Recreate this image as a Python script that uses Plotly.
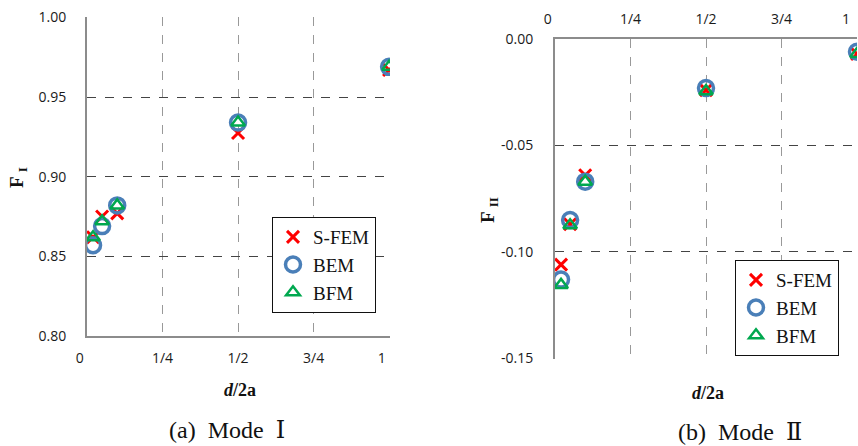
import plotly.graph_objects as go

# ---- data ----
x_pos = [0.02, 0.05, 0.1, 0.5, 1.0]
xtick_vals = [0, 0.25, 0.5, 0.75, 1.0]
NB = "\u00a0" * 4
xtick_text = ["0" + NB, "1/4", "1/2", "3/4", "1" + NB]
xtick_text_top = ["0" + NB, "1/4", "1/2", "3/4", "1" + NB + "\u00a0\u00a0"]

# Mode I
f1_sfem = [0.862, 0.875, 0.877, 0.9275, 0.967]
f1_bem = [0.857, 0.869, 0.882, 0.934, 0.969]
f1_bfm = [0.862, 0.872, 0.882, 0.934, 0.969]
y1_ticks = [0.80, 0.85, 0.90, 0.95, 1.00]
y1_text = ["0.80", "0.85", "0.90", "0.95", "1.00"]

# Mode II
f2_sfem = [-0.106, -0.087, -0.064, -0.024, -0.007]
f2_bem = [-0.113, -0.085, -0.067, -0.023, -0.006]
f2_bfm = [-0.1155, -0.0875, -0.067, -0.0245, -0.007]
y2_ticks = [0.0, -0.05, -0.10, -0.15]
y2_text = ["0.00", "-0.05", "-0.10", "-0.15"]

RED = "#ff0000"
BLUE = "#4a7fb8"
GREEN = "#00a84f"
SERIF = "Liberation Serif, DejaVu Serif"
SANS = "Open Sans"
SP = "\u00a0"

fig = go.Figure()


def add_series(xa, ya, legend, sfem, bem, bfm):
    fig.add_trace(go.Scatter(x=x_pos, y=sfem, mode="markers", name="S-FEM",
                             xaxis=xa, yaxis=ya, legend=legend,
                             marker=dict(symbol="x-thin-open", size=12,
                                         line=dict(color=RED, width=3), color=RED)))
    fig.add_trace(go.Scatter(x=x_pos, y=bem, mode="markers", name="BEM",
                             xaxis=xa, yaxis=ya, legend=legend,
                             marker=dict(symbol="circle-open", size=15,
                                         line=dict(color=BLUE, width=3.5), color=BLUE)))
    fig.add_trace(go.Scatter(x=x_pos, y=bfm, mode="markers", name="BFM",
                             xaxis=xa, yaxis=ya, legend=legend,
                             marker=dict(symbol="triangle-up-open", size=12,
                                         line=dict(color=GREEN, width=2.5), color=GREEN)))


add_series("x", "y", "legend", f1_sfem, f1_bem, f1_bfm)
add_series("x2", "y2", "legend2", f2_sfem, f2_bem, f2_bfm)

axis_line = dict(showline=True, linecolor="#8c8c8c", linewidth=2, zeroline=False,
                 automargin=False, ticklabeloverflow="allow",
                 tickfont=dict(family=SANS, size=14, color="#1a1a1a"))

fig.update_layout(
    width=858, height=446,
    margin=dict(l=0, r=0, t=0, b=0, autoexpand=False),
    paper_bgcolor="white", plot_bgcolor="white",
    font=dict(family=SANS, size=14, color="#222"),
    xaxis=dict(domain=[87 / 858, 390 / 858], range=[0, 1.003], anchor="y",
               tickvals=xtick_vals, ticktext=xtick_text, ticks="",
               ticklabelstandoff=8,
               showgrid=True, gridcolor="#999999", griddash="dash", gridwidth=1,
               **axis_line),
    yaxis=dict(domain=[1 - 336 / 446, 1 - 17 / 446], range=[0.80, 1.0003], anchor="x",
               tickvals=y1_ticks, ticktext=y1_text, ticks="",
               ticklabelstandoff=16,
               showgrid=True, gridcolor="#444444", griddash="dash", gridwidth=1,
               **axis_line),
    xaxis2=dict(domain=[555 / 858, 857 / 858], range=[0, 1.0], anchor="y2", side="top",
                tickvals=xtick_vals, ticktext=xtick_text_top, ticks="",
                ticklabelstandoff=7,
                showgrid=True, gridcolor="#999999", griddash="dash", gridwidth=1,
                **axis_line),
    yaxis2=dict(domain=[1 - 359 / 446, 1 - 39 / 446], range=[-0.1503, 0.0], anchor="x2",
                tickvals=y2_ticks, ticktext=y2_text, ticks="",
                ticklabelstandoff=17,
                showgrid=True, gridcolor="#444444", griddash="dash", gridwidth=1,
                **axis_line),
    legend=dict(x=272 / 858, y=1 - 217 / 446, xanchor="left", yanchor="top",
                bgcolor="white", bordercolor="#111", borderwidth=1,
                font=dict(family=SERIF, size=19, color="#111"), itemwidth=30,
                tracegroupgap=0),
    legend2=dict(x=735 / 858, y=1 - 260 / 446, xanchor="left", yanchor="top",
                 bgcolor="white", bordercolor="#111", borderwidth=1,
                 font=dict(family=SERIF, size=19, color="#111"), itemwidth=30,
                 tracegroupgap=0),
    annotations=[
        dict(text="(a)" + SP * 2 + "Mode" + SP * 2 + "Ⅰ", x=227 / 858, y=1 - 430 / 446,
             xref="paper", yref="paper",
             showarrow=False, font=dict(family=SERIF, size=24, color="#111"),
             xanchor="center", yanchor="middle"),
        dict(text="(b)" + SP * 2 + "Mode" + SP * 2 + "Ⅱ", x=740 / 858, y=1 - 432 / 446,
             xref="paper", yref="paper",
             showarrow=False, font=dict(family=SERIF, size=24, color="#111"),
             xanchor="center", yanchor="middle"),
        dict(text="<b><i>d</i>/2a</b>", x=240 / 858, y=1 - 390 / 446, xref="paper", yref="paper",
             showarrow=False, font=dict(family=SERIF, size=18, color="#111"),
             xanchor="center", yanchor="middle"),
        dict(text="<b><i>d</i>/2a</b>", x=708 / 858, y=1 - 393 / 446, xref="paper", yref="paper",
             showarrow=False, font=dict(family=SERIF, size=18, color="#111"),
             xanchor="center", yanchor="middle"),
        dict(text="<b>F <sub>I</sub></b>", x=18 / 858, y=1 - 178 / 446, xref="paper", yref="paper",
             showarrow=False, textangle=-90, font=dict(family=SERIF, size=19, color="#111"),
             xanchor="center", yanchor="middle"),
        dict(text="<b>F <sub>II</sub></b>", x=489 / 858, y=1 - 210 / 446, xref="paper", yref="paper",
             showarrow=False, textangle=-90, font=dict(family=SERIF, size=19, color="#111"),
             xanchor="center", yanchor="middle"),
    ],
)

fig.write_html("out.html", config={"displayModeBar": False},
               post_script="document.body.style.margin='0';")
